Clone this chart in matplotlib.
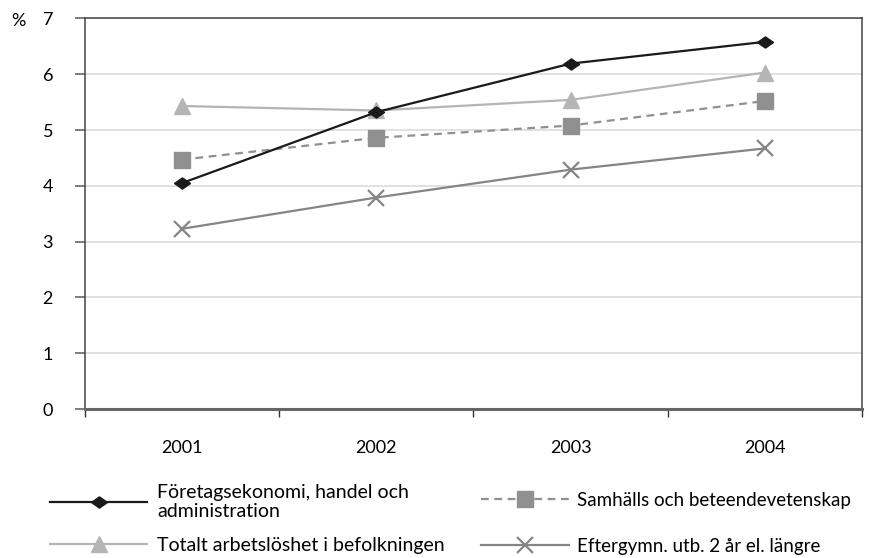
import matplotlib.pyplot as plt
from matplotlib.ticker import FixedLocator, NullFormatter, FixedFormatter

plt.rcParams['font.family'] = ['Lato', 'DejaVu Sans']

years = ["2001", "2002", "2003", "2004"]
foretag = [4.05, 5.32, 6.19, 6.58]
totalt = [5.43, 5.35, 5.54, 6.03]
samhalls = [4.47, 4.86, 5.08, 5.52]
eftergymn = [3.23, 3.79, 4.29, 4.67]

labels = ["Företagsekonomi, handel och\nadministration",
          "Totalt arbetslöshet i befolkningen",
          "Samhälls och beteendevetenskap",
          "Eftergymn. utb. 2 år el. längre"]

# wide, flat diamond like the original
diamond = [(-1, 0), (0, 0.7), (1, 0), (0, -0.7), (-1, 0)]

fig = plt.figure(figsize=(8.7, 5.58), dpi=100)
ax = fig.add_axes([0.0977, 0.267, 0.893, 0.7])

x = list(range(1, len(years) + 1))
l1, = ax.plot(x, foretag, color="#1a1a1a", lw=1.6, marker=diamond, ms=11.5, zorder=5)
l2, = ax.plot(x, totalt, color="#b5b5b5", lw=1.6, marker="^", ms=12, zorder=3)
l3, = ax.plot(x, samhalls, color="#909090", lw=1.6, ls=(0, (3.5, 2.5)),
              marker="s", ms=11.5, zorder=4)
l4, = ax.plot(x, eftergymn, color="#858585", lw=1.6, marker="x", ms=11.5,
              mew=1.6, zorder=4)

ax.set_xlim(0.5, 4.5)
ax.set_ylim(0, 7)
ax.set_yticks(range(0, 8))
ax.yaxis.grid(True, color="#d9d9d9", lw=1.1)
ax.set_axisbelow(True)

ax.xaxis.set_major_locator(FixedLocator([0.5, 1.5, 2.5, 3.5, 4.5]))
ax.xaxis.set_major_formatter(NullFormatter())
ax.xaxis.set_minor_locator(FixedLocator(x))
ax.xaxis.set_minor_formatter(FixedFormatter(years))
ax.tick_params(axis="x", which="major", length=6, width=1, color="#333333", direction="out")
ax.tick_params(axis="x", which="minor", length=0, pad=22, labelsize=13)
ax.tick_params(axis="y", length=7, width=1.2, color="#666666", pad=16, labelsize=13)

for s in ["left", "top", "right"]:
    ax.spines[s].set_color("#444444")
    ax.spines[s].set_linewidth(1.1)
ax.spines["bottom"].set_color("#666666")
ax.spines["bottom"].set_linewidth(2.2)

fig.text(0.021, 0.962, "%", fontsize=13, va="center", ha="center")

fig.legend([l1, l2], [labels[0], labels[1]], loc="upper left",
           bbox_to_anchor=(0.0575, 0.1335), frameon=False, fontsize=14,
           handlelength=5.0, handletextpad=0.5, labelspacing=0.86,
           borderaxespad=0, borderpad=0)
fig.legend([l3, l4], [labels[2], labels[3]], loc="upper left",
           bbox_to_anchor=(0.553, 0.119), frameon=False, fontsize=13.5,
           handlelength=4.7, handletextpad=0.4, labelspacing=1.55,
           borderaxespad=0, borderpad=0)

fig.savefig("out.png", dpi=100)
